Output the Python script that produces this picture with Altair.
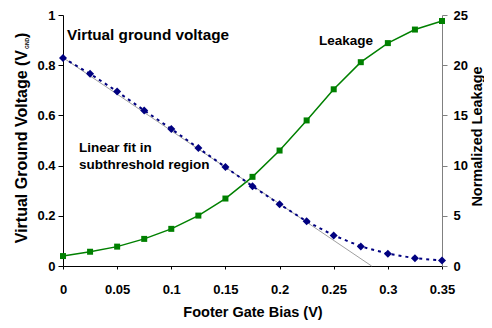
import altair as alt
import pandas as pd

# ---- data ----
bias = [0, 0.025, 0.05, 0.075, 0.1, 0.125, 0.15, 0.175, 0.2, 0.225, 0.25, 0.275, 0.3, 0.325, 0.35]
vgnd = [0.829, 0.766, 0.695, 0.620, 0.546, 0.470, 0.394, 0.318, 0.246, 0.178, 0.122, 0.078, 0.049, 0.031, 0.022]
leakage = [0.99, 1.42, 1.93, 2.70, 3.70, 5.02, 6.72, 8.88, 11.5, 14.5, 17.6, 20.3, 22.2, 23.55, 24.4]
fit_x = [0, 0.285]
fit_y = [0.83, 0]
x_ticks = [0, 0.05, 0.1, 0.15, 0.2, 0.25, 0.3, 0.35]
left_ticks = [0, 0.2, 0.4, 0.6, 0.8, 1]
right_ticks = [0, 5, 10, 15, 20, 25]

FONT = "Liberation Sans"
W, H = 379, 251

df_v = pd.DataFrame({"x": bias, "y": vgnd})
df_l = pd.DataFrame({"x": bias, "y": leakage})
df_f = pd.DataFrame({"x": fit_x, "y": fit_y})
one = pd.DataFrame({"a": [0]})

xenc = alt.X(
    "x:Q",
    scale=alt.Scale(domain=[0, 0.35], nice=False, zero=False),
    axis=alt.Axis(
        values=x_ticks, format=".2~f", title="Footer Gate Bias (V)",
        tickSize=3, labelPadding=14, titleY=46, titleBaseline="middle",
        titleFontSize=14.5, labelFlush=False,
    ),
)
yleft_scale = alt.Scale(domain=[0, 1], nice=False)
yleft_axis = alt.Axis(values=left_ticks, format=".1~f", title=None,
                      orient="left", tickSize=5, labelPadding=3, labelFlush=False)

fit = alt.Chart(df_f).mark_line(color="#a0a0a0", strokeWidth=1).encode(
    x=xenc, y=alt.Y("y:Q", scale=yleft_scale, axis=yleft_axis)
)
vline = alt.Chart(df_v).mark_line(color="#000080", strokeWidth=2, strokeDash=[3, 4]).encode(
    x=xenc, y=alt.Y("y:Q", scale=yleft_scale, axis=yleft_axis)
)
vpts = alt.Chart(df_v).mark_point(shape="diamond", filled=True, size=64, color="#000080", opacity=1).encode(
    x=xenc, y=alt.Y("y:Q", scale=yleft_scale, axis=yleft_axis)
)

def txt(s, x, y, size, align="left", baseline="middle", angle=0):
    kw = dict(text=s, font=FONT, fontWeight="bold", fontSize=size, align=align,
              baseline=baseline, color="black")
    if angle:
        kw["angle"] = angle
    return alt.Chart(one).mark_text(**kw).encode(x=alt.value(x), y=alt.value(y))

ann = [
    txt("Virtual ground voltage", 4, 20, 15.3),
    txt("Leakage", 256, 26, 13.5),
    txt("Linear fit in", 16, 133, 13.5),
    txt("subthreshold region", 16, 150, 13.5),
    txt("Virtual Ground Voltage (V", -36, 35, 16, align="right", baseline="alphabetic", angle=270),
    txt("GND", -34.5, 34, 5, align="left", baseline="alphabetic", angle=270),
    txt(")", -36, 23, 16, align="left", baseline="alphabetic", angle=270),
]

left = alt.layer(fit, vline, vpts, *ann)

yright_scale = alt.Scale(domain=[0, 25], nice=False)
yright_axis = alt.Axis(values=right_ticks, title="Normalized Leakage", orient="right",
                       tickSize=5, labelPadding=6, domainColor="#808080", tickColor="#808080",
                       titleAngle=270, titleX=35, titleY=121, titleAlign="center",
                       titleBaseline="middle", titleFontSize=14.5, labelFlush=False)
lline = alt.Chart(df_l).mark_line(color="#008000", strokeWidth=1.5).encode(
    x=xenc, y=alt.Y("y:Q", scale=yright_scale, axis=yright_axis)
)
lpts = alt.Chart(df_l).mark_point(shape="square", filled=True, size=36, color="#008000", opacity=1).encode(
    x=xenc, y=alt.Y("y:Q", scale=yright_scale, axis=yright_axis)
)
right = alt.layer(lline, lpts)

chart = (
    alt.layer(left, right)
    .resolve_scale(y="independent")
    .properties(width=W, height=H, autosize=alt.AutoSizeParams(type="none"),
                padding={"left": 55, "top": 7, "right": 42, "bottom": 54})
    .configure_view(strokeWidth=0)
    .configure_axis(
        grid=False, labelFont=FONT, labelFontWeight="bold", labelFontSize=13,
        labelColor="black", titleFont=FONT, titleFontWeight="bold", titleColor="black",
        domainColor="black", tickColor="black", domainWidth=1,
    )
)

chart.save("out.html", embed_options={"renderer": "svg", "actions": False})
